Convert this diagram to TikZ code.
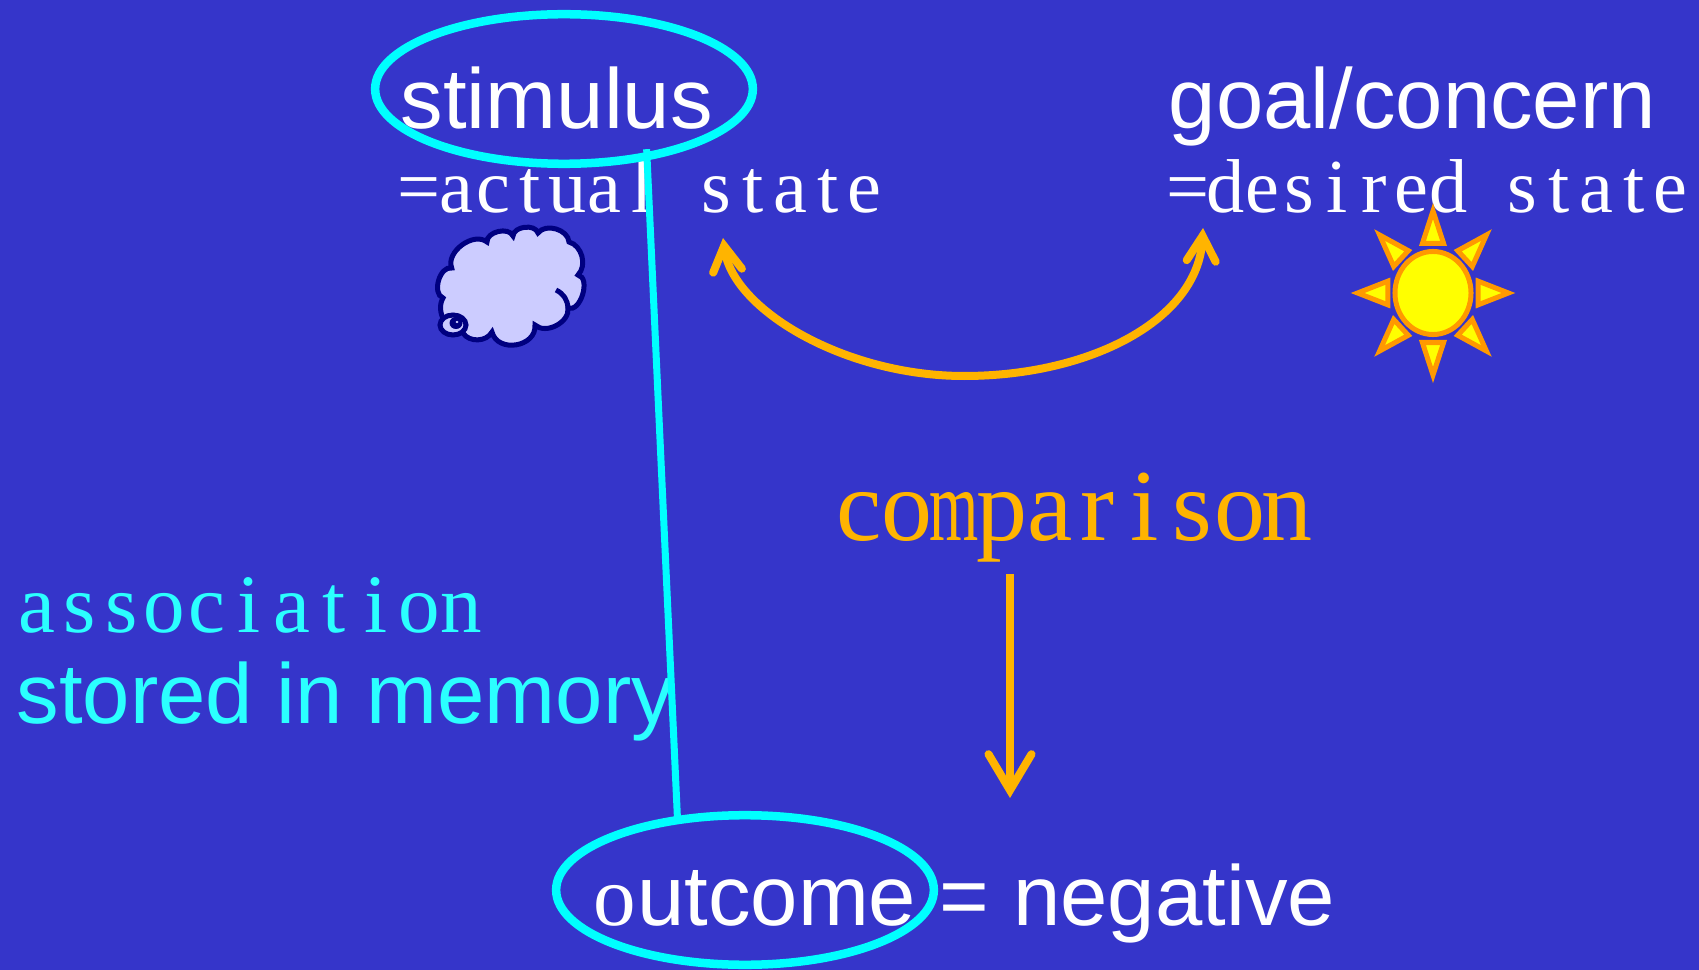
\documentclass[tikz,border=0pt]{standalone}
\usepackage{xcolor}
\usepackage{fontspec}
\setmainfont{Liberation Sans}
\newfontfamily\thinserif{Liberation Serif}
\usetikzlibrary{shapes.geometric, arrows.meta, positioning}
\definecolor{slide}{HTML}{3535CA}
\definecolor{ringcyan}{HTML}{00FFFF}
\definecolor{memcyan}{HTML}{2BFFFF}
\definecolor{amber}{HTML}{FFB400}
\definecolor{sunfill}{HTML}{FFFF00}
\definecolor{sunedge}{HTML}{FF9900}
\definecolor{cloudfill}{HTML}{CCCCFF}
\definecolor{cloudedge}{HTML}{000080}
\makeatletter
\newcommand{\cellword}[2]{\@tfor\cellchar:=#2\do{\makebox[#1][c]{\cellchar}}}
\makeatother

\begin{document}
\begin{tikzpicture}[
    x=0.01cm, y=-0.01cm,
    ring/.style={ellipse, draw=ringcyan, line width=0.085cm, inner sep=0pt, outer sep=0pt, minimum width=3.775cm, minimum height=1.495cm},
    bigtxt/.style={anchor=base west, inner sep=0pt, text=white, font=\fontsize{24.2pt}{28pt}\selectfont},
    statetxt/.style={anchor=base west, inner sep=0pt, text=white, font=\fontsize{21.7pt}{28pt}\thinserif},
    comptxt/.style={anchor=base west, inner sep=0pt, text=amber, font=\fontsize{29pt}{36pt}\thinserif},
    assoctxt/.style={anchor=base west, inner sep=0pt, text=memcyan, font=\fontsize{23.6pt}{30pt}\thinserif},
    link/.style={draw=ringcyan, line width=0.07cm},
    arr/.style={{Straight Barb[length=2.5mm, width=2.9mm, line cap=round]}-{Straight Barb[length=2.5mm, width=2.9mm, line cap=round]}, draw=amber, line width=0.08cm},
    downarr/.style={-{Straight Barb[length=3.6mm, width=4.3mm, line cap=round]}, draw=amber, line width=0.08cm},
    ray/.style={fill=sunfill, draw=sunedge, line width=0.05cm},
    cloudline/.style={fill=cloudfill, draw=cloudedge, line width=0.05cm},
  ]
  \useasboundingbox (0,0) rectangle (1699,970);
  \fill[slide] (0,0) rectangle (1699,970);

  % Top row
  \node[bigtxt] (stimulus) at (400,129) {stimulus};
  \node[bigtxt] (goal) at (1168,129) {goal/concern};
  \node[statetxt] (actual) at (400,213) {\cellword{0.371cm}{=actual~state}};
  \node[statetxt] (desired) at (1169,213) {\cellword{0.371cm}{=desired~state}};
  \node[ring] (stimring) at (564,89) {};

  % Cloud
  \filldraw[cloudline] (451.7,268) to[bend left=75] (487,242) to[bend left=80] (513,236)
    to[bend left=80] (538,233) to[bend left=70] (569,242) to[bend left=60] (578,275)
    to[bend left=95] (568,308) to[bend left=70] (535,325) to[bend left=85, looseness=1.3] (492,332)
    to[bend left=60] (463,333) to[bend left=60] (443,298) to[bend left=85] cycle;
  \draw[cloudline, fill=none] (556,290) to[bend left=30] (568,308);
  \draw[cloudline] (453,325) ellipse (13 and 10);
  \fill[cloudedge] (456,323) ellipse (6.5 and 6);
  \fill[cloudfill] (457,322) ellipse (1.5 and 1.2);

  % Sun
  \node[ellipse, fill=sunfill, draw=sunedge, line width=0.05cm, inner sep=0pt, outer sep=0pt, minimum width=0.76cm, minimum height=0.83cm] (sun) at (1433,293) {};
  \draw[ray] (1433,211) -- (1443.6,243.5) -- (1422.4,243.5) -- cycle;
  \draw[ray] (1433,375) -- (1443.6,342.5) -- (1422.4,342.5) -- cycle;
  \draw[ray] (1357.6,293) -- (1387.8,281.2) -- (1387.8,304.8) -- cycle;
  \draw[ray] (1508.4,293) -- (1478.2,281.2) -- (1478.2,304.8) -- cycle;
  \draw[ray] (1486.4,235) -- (1457.7,250.7) -- (1472.3,266.5) -- cycle;
  \draw[ray] (1486.4,351) -- (1457.7,335.3) -- (1472.3,319.5) -- cycle;
  \draw[ray] (1379.6,235) -- (1408.3,250.7) -- (1393.7,266.5) -- cycle;
  \draw[ray] (1379.6,351) -- (1408.3,335.3) -- (1393.7,319.5) -- cycle;

  % Comparison
  \coordinate (actualtip) at (723,238);
  \coordinate (desiredtip) at (1203,228);
  \coordinate (curvelow) at (964,376);
  \draw[arr] (actualtip) .. controls (733,310) and (845,376) .. (curvelow) .. controls (1090,376) and (1198,320) .. (desiredtip);
  \node[comptxt] (comparison) at (835,541) {\cellword{0.475cm}{co{\scalebox{.62}[1]{m}}parison}};
  \coordinate (downstart) at (1010,574);
  \coordinate (downtip) at (1010,798);
  \draw[downarr] (downstart) -- (downtip);

  % Left labels
  \node[assoctxt] (association) at (15,633) {\cellword{0.424cm}{association}};
  \node[bigtxt, text=memcyan] (stored) at (16,723) {stored in memory};

  % Outcome
  \node[bigtxt] (outcome) at (592,925) {\makebox[0.445cm][c]{\thinserif o}utcome = negative};
  \node[ring] (outring) at (745,890) {};
  \draw[link, shorten <=-0.07cm] (stimring.-39.3) -- (outring.134.7);
\end{tikzpicture}
\end{document}
